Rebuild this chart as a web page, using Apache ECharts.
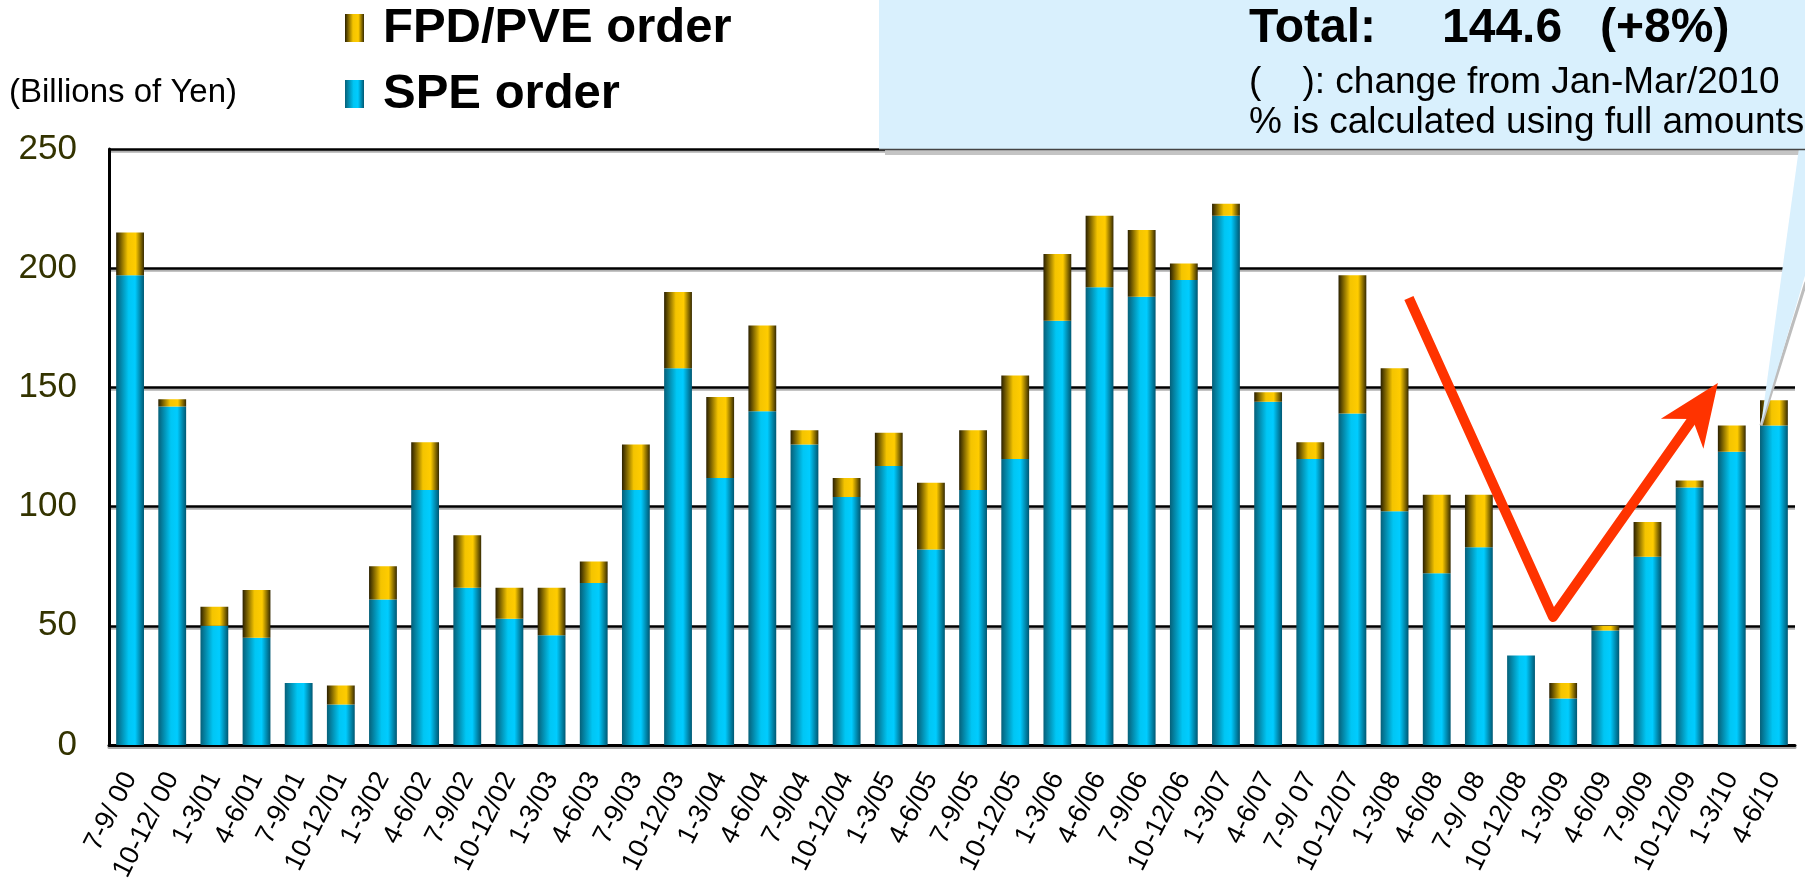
<!DOCTYPE html>
<html>
<head>
<meta charset="utf-8">
<title>SPE / FPD order</title>
<script src="https://cdn.jsdelivr.net/npm/echarts@6/dist/echarts.min.js"></script>
<style>
html,body{margin:0;padding:0;background:#fff;}
#chart_order{width:1805px;height:880px;}
</style>
</head>
<body>
<div id="chart_order"></div>
<script>
// quarters (x axis)
var quarters = ['7-9/ 00','10-12/ 00','1-3/01','4-6/01','7-9/01','10-12/01','1-3/02','4-6/02','7-9/02','10-12/02',
    '1-3/03','4-6/03','7-9/03','10-12/03','1-3/04','4-6/04','7-9/04','10-12/04','1-3/05','4-6/05',
    '7-9/05','10-12/05','1-3/06','4-6/06','7-9/06','10-12/06','1-3/07','4-6/07','7-9/ 07','10-12/07',
    '1-3/08','4-6/08','7-9/ 08','10-12/08','1-3/09','4-6/09','7-9/09','10-12/09','1-3/10','4-6/10'];

// SPE order (billions of yen)
var speOrder = [197,142,50,45,26,17,61,107,66,53,
    46,68,107,158,112,140,126,104,117,82,
    107,120,178,192,188,195,222,144,120,139,
    98,72,83,37.5,19.5,48,79,108,123,134];

// FPD/PVE order, stacked on top
var fpdOrder = [18,3,8,20,0,8,14,20,22,13,
    20,9,19,32,34,36,6,8,14,28,
    25,35,28,30,28,7,5,4,7,58,
    60,33,22,0,6.5,2,14.5,3,11,10.6];

var yTicks = [0,50,100,150,200,250];

// red V arrow, in [category index, value]
var arrowPath = [[30.34,187.5],[33.76,53.7],[37.67,151.8]];

var fontName = 'Liberation Sans, Arial, sans-serif';

var speColor = new echarts.graphic.LinearGradient(0,0,1,0,[
    {offset:0, color:'#066079'},
    {offset:0.45, color:'#00c6f4'},
    {offset:0.68, color:'#00ccff'},
    {offset:1, color:'#005873'}
]);
var fpdColor = new echarts.graphic.LinearGradient(0,0,1,0,[
    {offset:0, color:'#2a2000'},
    {offset:0.42, color:'#f4c400'},
    {offset:0.7, color:'#ffcc00'},
    {offset:1, color:'#362a00'}
]);

var chart_order = echarts.init(document.getElementById('chart_order'));
chart_order.setOption({
    animation:false,
    textStyle:{fontFamily:fontName},
    legend:{
        data:['FPD/PVE order','SPE order'],
        orient:'vertical',
        left:345,
        top:3,
        padding:0,
        itemWidth:19,
        itemHeight:28,
        itemGap:16,
        selectedMode:false,
        icon:'rect',
        textStyle:{fontSize:49,fontWeight:'bold',color:'#000',lineHeight:50,padding:[0,0,0,14],fontFamily:fontName}
    },
    grid:{
        left:109,
        right:10,
        top:149,
        bottom:135,
        containLabel:false,
        outerBoundsMode:'none'
    },
    xAxis:[
        {
            type:'category',
            data:quarters,
            axisLine:{lineStyle:{color:'#000',width:3,shadowColor:'#aaa',shadowOffsetY:2}},
            axisTick:{show:false},
            axisLabel:{
                interval:0,
                rotate:63,
                margin:29,
                fontSize:27,
                color:'#000'
            }
        }
    ],
    yAxis:[
        {
            type:'value',
            min:yTicks[0],
            max:yTicks[yTicks.length-1],
            interval:50,
            axisLine:{show:true,lineStyle:{color:'#000',width:3}},
            axisTick:{show:false},
            axisLabel:{fontSize:35,color:'#333300',margin:32},
            splitLine:{
                lineStyle:{color:'#000',width:2.5,shadowColor:'#b0b0b0',shadowOffsetY:2}
            }
        }
    ],
    series:[
        {
            name:'SPE order',type:'bar',stack:'order',
            barWidth:'66%',
            itemStyle:{color:speColor},
            data:speOrder
        },
        {
            name:'FPD/PVE order',type:'bar',stack:'order',
            barWidth:'66%',
            itemStyle:{color:fpdColor},
            data:fpdOrder
        }
    ]
});

// annotations: unit label, callout box, red arrow
var x0 = chart_order.convertToPixel({xAxisIndex:0}, quarters[0]);
var band = chart_order.convertToPixel({xAxisIndex:0}, quarters[1]) - x0;
function toPx(p){
    return [x0 + p[0]*band, chart_order.convertToPixel({yAxisIndex:0}, p[1])];
}
var a0 = toPx(arrowPath[0]), a1 = toPx(arrowPath[1]), a2 = toPx(arrowPath[2]);
var dx = a2[0]-a1[0], dy = a2[1]-a1[1], len = Math.sqrt(dx*dx+dy*dy);
var ux = dx/len, uy = dy/len, nx = -uy, ny = ux;
var headLen = 62, headW = 26, notch = 44;
var lineEnd = [a2[0]-ux*(notch-4), a2[1]-uy*(notch-4)];
var head = [
    a2,
    [a2[0]-ux*headLen+nx*headW, a2[1]-uy*headLen+ny*headW],
    [a2[0]-ux*notch, a2[1]-uy*notch],
    [a2[0]-ux*headLen-nx*headW, a2[1]-uy*headLen-ny*headW]
];

var lastIdx = quarters.length-1;
var tip = chart_order.convertToPixel({seriesIndex:0}, [lastIdx, speOrder[lastIdx]]);
tip = [tip[0]-13, tip[1]];

chart_order.setOption({
    graphic:[
        {type:'text',left:9,top:76,z:10,
            style:{text:'(Billions of Yen)',fontSize:33,fill:'#000',fontFamily:fontName}},
        // callout
        {type:'rect',z:20,shape:{x:885,y:150,width:925,height:5},style:{fill:'#c4c4c4'}},
        {type:'rect',z:21,shape:{x:879,y:-5,width:930,height:154.5},style:{fill:'#d9f0fd'}},
        {type:'line',z:22,shape:{x1:879,y1:149.5,x2:1805,y2:149.5},style:{stroke:'#444',lineWidth:1.5}},
        {type:'line',z:20,shape:{x1:tip[0],y1:tip[1],x2:1806,y2:282},style:{stroke:'#bdbdbd',lineWidth:3}},
        {type:'polygon',z:21,shape:{points:[tip,[1799,148],[1806,148],[1806,272]]},style:{fill:'#d9f0fd'}},
        {type:'text',left:1249,top:5,z:30,
            style:{text:'Total:',fontSize:48,fontWeight:'bold',fill:'#000',fontFamily:fontName}},
        {type:'text',left:1442,top:5,z:30,
            style:{text:'144.6',fontSize:48,fontWeight:'bold',fill:'#000',fontFamily:fontName}},
        {type:'text',left:1600,top:5,z:30,
            style:{text:'(+8%)',fontSize:48,fontWeight:'bold',fill:'#000',fontFamily:fontName}},
        {type:'text',left:1249,top:64,z:30,
            style:{text:'(    ): change from Jan-Mar/2010',fontSize:37,fill:'#000',fontFamily:fontName}},
        {type:'text',left:1249,top:104,z:30,
            style:{text:'% is calculated using full amounts',fontSize:37,fill:'#000',fontFamily:fontName}},
        // red arrow
        {type:'polyline',z:40,shape:{points:[a0,a1,lineEnd]},
            style:{stroke:'#ff3300',lineWidth:10,lineJoin:'round',fill:null}},
        {type:'polygon',z:40,shape:{points:head},style:{fill:'#ff3300'}}
    ]
});
</script>
</body>
</html>
